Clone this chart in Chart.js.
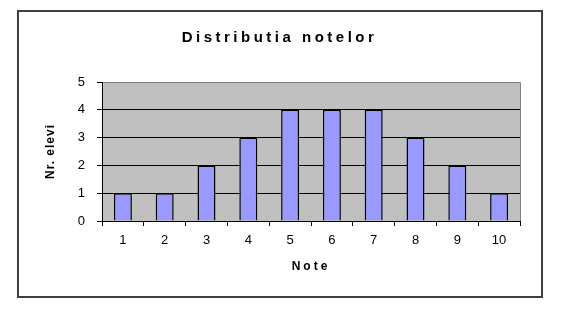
<!DOCTYPE html>
<html>
<head>
<meta charset="utf-8">
<script src="https://cdn.jsdelivr.net/npm/chart.js@4/dist/chart.umd.min.js"></script>
<style>
  html, body { margin: 0; padding: 0; background: #fff; }
  #wrap { width: 576px; height: 310px; }
</style>
</head>
<body>
<div id="wrap"><canvas id="chart" width="576" height="310"></canvas></div>
<script>
// date
const note = ['1', '2', '3', '4', '5', '6', '7', '8', '9', '10'];
const nrElevi = [1, 1, 2, 3, 4, 4, 4, 3, 2, 1];
const yTicks = [0, 1, 2, 3, 4, 5];

const fontFamily = '"Liberation Sans", Arial, sans-serif';

// fundal gri al zonei de desen + chenarul exterior
const plotFrame = {
  id: 'plotFrame',
  beforeDraw(chart) {
    const { ctx, chartArea: a } = chart;
    ctx.save();
    ctx.fillStyle = '#c0c0c0';
    ctx.fillRect(a.left, a.top, a.right - a.left, a.bottom - a.top);
    ctx.strokeStyle = '#808080';
    ctx.lineWidth = 1;
    ctx.beginPath();
    ctx.moveTo(a.left, a.top + 0.5);
    ctx.lineTo(a.right + 0.5, a.top + 0.5);
    ctx.lineTo(a.right + 0.5, a.bottom);
    ctx.stroke();
    ctx.restore();
  },
  afterDraw(chart) {
    const ctx = chart.ctx;
    ctx.save();
    ctx.strokeStyle = '#404040';
    ctx.lineWidth = 2;
    ctx.strokeRect(18, 11, 524, 286);
    ctx.restore();
  }
};

// spatiere intre litere pentru titluri (si mutare pe orizontala)
const letterSpacing = {
  id: 'letterSpacing',
  beforeDraw(chart) {
    const wrap = (obj, fn, spacing, dx) => {
      if (!obj || obj['_ls_' + fn]) return;
      const orig = obj[fn];
      obj[fn] = function (...args) {
        const ctx = chart.ctx;
        ctx.save();
        ctx.letterSpacing = spacing;
        ctx.translate(dx, 0);
        orig.apply(this, args);
        ctx.restore();
      };
      obj['_ls_' + fn] = true;
    };
    wrap(chart.titleBlock, 'draw', '3.5px', 10.5);
    wrap(chart.scales.x, 'drawTitle', '3px', 0);
    wrap(chart.scales.y, 'drawTitle', '1px', 0);
  }
};

new Chart(document.getElementById('chart'), {
  type: 'bar',
  data: {
    labels: note,
    datasets: [{
      label: 'Nr. elevi',
      data: nrElevi,
      backgroundColor: '#9999ff',
      borderColor: '#000000',
      borderWidth: 1.5,
      barPercentage: 0.43,
      categoryPercentage: 1
    }]
  },
  options: {
    responsive: false,
    animation: false,
    layout: { padding: { left: 18, right: 56, top: 11, bottom: 13 } },
    plugins: {
      legend: { display: false },
      tooltip: { enabled: false },
      title: {
        display: true,
        text: 'Distributia notelor',
        color: '#000',
        font: { family: fontFamily, size: 15, weight: 'bold' },
        padding: { top: 18, bottom: 35 }
      }
    },
    scales: {
      x: {
        afterFit(s) { s.height = 76; },
        grid: {
          offset: true,
          drawOnChartArea: false,
          tickLength: 5,
          color: '#000'
        },
        border: { color: '#000', width: 1 },
        ticks: {
          color: '#000',
          padding: 7,
          font: { family: fontFamily, size: 13 }
        },
        title: {
          display: true,
          text: 'Note',
          color: '#000',
          font: { family: fontFamily, size: 12, weight: 'bold' },
          padding: { top: 4, bottom: 23 }
        }
      },
      y: {
        min: 0,
        max: 5,
        afterFit(s) { s.width = 84; },
        afterBuildTicks(s) { s.ticks = yTicks.map(v => ({ value: v })); },
        grid: {
          color: c => (c.tick && c.tick.value === 5 ? '#808080' : '#000'),
          tickColor: '#000',
          tickLength: 5
        },
        border: { color: '#000', width: 1 },
        ticks: {
          color: '#000',
          padding: 12,
          font: { family: fontFamily, size: 13 }
        },
        title: {
          display: true,
          text: 'Nr. elevi',
          color: '#000',
          font: { family: fontFamily, size: 12, weight: 'bold' },
          padding: { top: 25, bottom: 0 }
        }
      }
    }
  },
  plugins: [plotFrame, letterSpacing]
});
</script>
</body>
</html>
